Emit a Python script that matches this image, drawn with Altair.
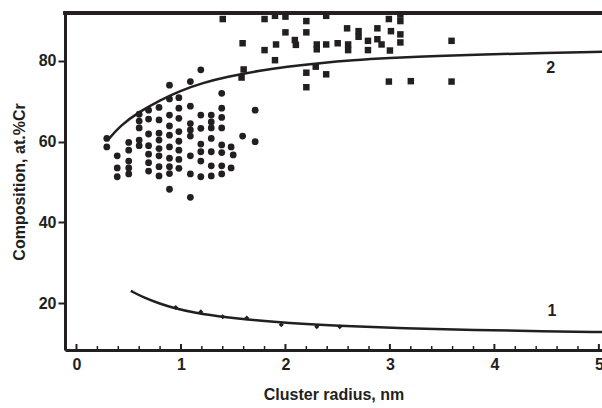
import altair as alt
import pandas as pd

INK = "#231f20"
FONT = "Liberation Sans"

# ---- scatter: circles (cluster data) ----
circle_x = ([0.29] * 2 + [0.39] * 3 + [0.50] * 5 + [0.60] * 5 + [0.69] * 7 +
            [0.79] * 8 + [0.89] * 10 + [0.98] * 8 + [1.09] * 8 + [1.19] * 7 +
            [1.29] * 7 + [1.39] * 8 + [1.48, 1.48, 1.50] + [1.59] + [1.71, 1.71])
circle_y = [60.8, 58.7,
            56.5, 53.5, 51.3,
            59.8, 57.9, 55.2, 53.5, 52.0,
            66.8, 65.1, 63.4, 60.4, 59.0,
            67.8, 65.6, 61.9, 59.0, 56.9, 54.8, 52.7,
            68.5, 65.4, 62.1, 60.4, 58.3, 56.5, 53.8, 51.5,
            74.0, 70.6, 66.6, 63.9, 61.6, 58.7, 55.9, 53.8, 52.1, 48.2,
            70.9, 68.3, 65.8, 62.5, 60.1, 57.9, 55.6, 53.4,
            74.9, 68.8, 64.5, 62.9, 61.4, 56.5, 52.0, 46.2,
            77.8, 66.6, 63.3, 59.4, 57.5, 55.2, 51.3,
            66.6, 64.9, 63.4, 60.8, 57.5, 54.0, 51.5,
            72.0, 68.3, 66.0, 63.4, 59.2, 57.3, 54.0, 52.0,
            58.7, 53.5, 56.7,
            61.4,
            67.8, 60.0]

# ---- scatter: squares ----
square_x = [1.40, 1.59, 1.60, 1.58, 1.80, 1.90, 2.00, 2.20, 2.39, 2.00,
            2.20, 1.80, 1.91, 2.09, 2.10, 2.30, 2.30, 2.39, 1.90, 2.20,
            2.29, 2.39, 2.20, 2.50, 2.59, 2.60, 2.60, 2.70, 2.70, 2.79,
            2.79, 2.88, 2.88, 2.92, 3.01, 3.00, 2.99, 3.10, 3.10, 3.10,
            3.10, 2.99, 3.20, 3.59, 3.59]
square_y = [90.4, 84.4, 77.9, 75.9, 90.4, 91.2, 91.0, 89.9, 91.2, 87.1,
            87.1, 82.7, 84.1, 85.2, 84.0, 84.1, 82.9, 84.1, 80.2, 77.1,
            78.6, 76.7, 73.5, 84.4, 88.1, 84.1, 82.7, 87.4, 86.0, 85.0,
            82.7, 88.1, 85.4, 84.1, 87.4, 82.6, 90.4, 89.9, 91.5, 86.6,
            84.6, 74.9, 75.0, 85.0, 74.9]

# ---- diamonds (series 1 points) ----
diamond_x = [0.95, 1.19, 1.40, 1.63, 1.96, 2.30, 2.52]
diamond_y = [18.9, 17.8, 16.6, 16.3, 14.6, 14.1, 14.1]

# ---- fitted curves ----
curve1_x = [0.52, 0.64, 0.80, 0.94, 1.12, 1.44, 1.76, 2.00, 2.49, 3.15, 3.81, 4.47, 5.03]
curve1_y = [23.0, 21.4, 19.8, 18.7, 17.6, 16.4, 15.6, 15.1, 14.3, 13.7, 13.3, 13.0, 12.8]
curve2_x = [0.30, 0.42, 0.60, 0.80, 0.99, 1.21, 1.44, 1.75, 2.01, 2.33, 2.65, 2.97, 3.48, 3.86, 4.50, 5.03]
curve2_y = [60.4, 64.0, 67.4, 70.3, 72.6, 74.6, 76.1, 77.6, 78.6, 79.5, 80.2, 80.7, 81.3, 81.6, 82.0, 82.3]

label_text = ["1", "2"]
label_x = [4.55, 4.54]
label_y = [17.9, 78.2]

x_major = [0, 1, 2, 3, 4, 5]
x_minor = [0.2, 0.4, 0.6, 0.8, 1.2, 1.4, 1.6, 1.8, 2.2, 2.4, 2.6, 2.8,
           3.2, 3.4, 3.6, 3.8, 4.2, 4.4, 4.6, 4.8]
y_major = [20, 40, 60, 80]

X_DOMAIN = [-0.11, 5.03]
Y_DOMAIN = [8.35, 91.9]
W, H = 537, 337

circles = pd.DataFrame({"r": circle_x, "c": circle_y})
squares = pd.DataFrame({"r": square_x, "c": square_y})
diamonds = pd.DataFrame({"r": diamond_x, "c": diamond_y})
curves = pd.concat([
    pd.DataFrame({"r": curve1_x, "c": curve1_y, "k": "1"}),
    pd.DataFrame({"r": curve2_x, "c": curve2_y, "k": "2"}),
])
labels = pd.DataFrame({"r": label_x, "c": label_y, "t": label_text})
major = pd.DataFrame({"r": x_major})
minor = pd.DataFrame({"r": x_minor})

xs = alt.Scale(domain=X_DOMAIN, nice=False, zero=False)
ys = alt.Scale(domain=Y_DOMAIN, nice=False, zero=False)

x_enc = alt.X("r:Q", scale=xs, title="Cluster radius, nm",
              axis=alt.Axis(values=x_major, format="d", ticks=False, tickSize=0,
                            grid=False, labelPadding=6, labelFontSize=16,
                            labelFontWeight="bold", labelFont=FONT, labelColor=INK,
                            titleFont=FONT, titleFontSize=16, titleFontWeight="bold",
                            titleColor=INK, titlePadding=14, domainWidth=3,
                            domainColor=INK, labelFlush=False, labelOverlap=False))
y_enc = alt.Y("c:Q", scale=ys, title="Composition, at.%Cr",
              axis=alt.Axis(values=y_major, format="d", tickSize=7, tickWidth=2,
                            tickColor=INK, grid=False, labelPadding=2,
                            labelFontSize=16, labelFontWeight="bold", labelFont=FONT,
                            labelColor=INK, titleFont=FONT, titleFontSize=16,
                            titleFontWeight="bold", titleColor=INK, titlePadding=11,
                            domainWidth=3, domainColor=INK))

base_x = alt.X("r:Q", scale=xs)
base_y = alt.Y("c:Q", scale=ys)

circle_layer = alt.Chart(circles).mark_circle(color=INK, opacity=1, size=46).encode(
    x=x_enc, y=y_enc)
square_layer = alt.Chart(squares).mark_square(color=INK, opacity=1, size=42).encode(
    x=base_x, y=base_y)
diamond_layer = alt.Chart(diamonds).mark_point(
    shape="diamond", filled=True, color=INK, opacity=1, size=26).encode(
    x=base_x, y=base_y)
curve_layer = alt.Chart(curves).mark_line(
    color=INK, strokeWidth=2.5, interpolate="basis").encode(
    x=base_x, y=base_y, detail="k:N")
label_layer = alt.Chart(labels).mark_text(
    font=FONT, fontSize=16, fontWeight="bold", color=INK).encode(
    x=base_x, y=base_y, text="t:N")
major_ticks = alt.Chart(major).mark_rule(color=INK, strokeWidth=2).encode(
    x=base_x, y=alt.value(H), y2=alt.value(H - 6))
minor_ticks = alt.Chart(minor).mark_rule(color=INK, strokeWidth=1.5).encode(
    x=base_x, y=alt.value(H), y2=alt.value(H - 4))
top_frame = alt.Chart(major).mark_rule(color=INK, strokeWidth=3).encode(
    x=alt.value(-1.5), x2=alt.value(W), y=alt.value(0))

chart = alt.layer(
    curve_layer, circle_layer, square_layer, diamond_layer, label_layer,
    major_ticks, minor_ticks, top_frame
).properties(
    width=W, height=H,
    autosize=alt.AutoSizeParams(type="none"),
    padding={"left": 65, "top": 13, "right": 0, "bottom": 58},
).configure_view(stroke=None).configure(background="white")

chart.save("out.html", embed_options={"renderer": "svg", "actions": False})
